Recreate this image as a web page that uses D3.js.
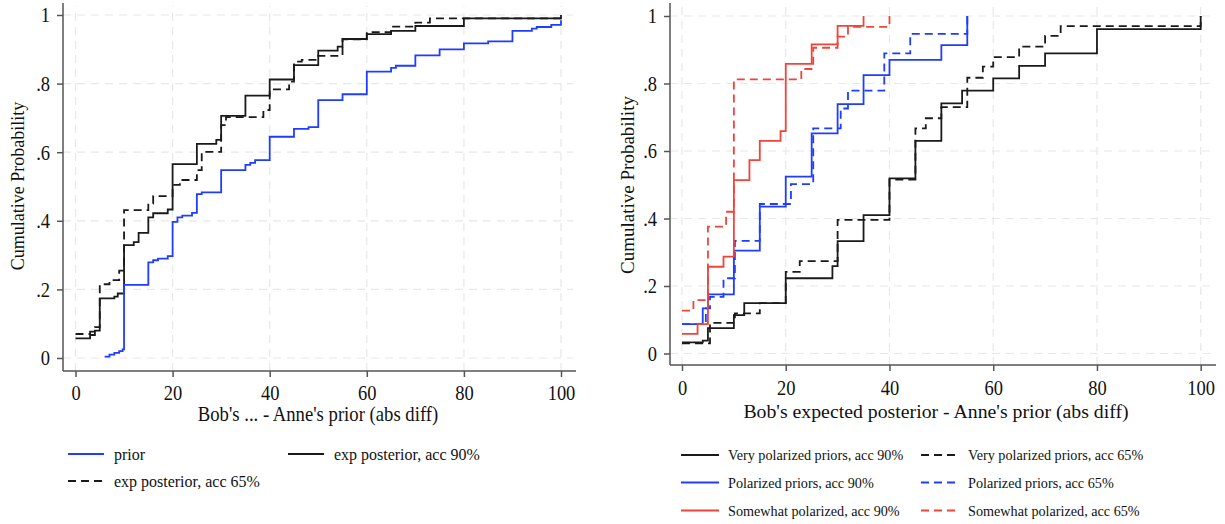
<!DOCTYPE html>
<html><head><meta charset="utf-8">
<script src="https://cdn.jsdelivr.net/npm/d3@7"></script>
<style>
body{margin:0;background:#fff;}
svg{display:block;font-family:"Liberation Serif","Times New Roman",serif;}
</style></head>
<body><svg id="c" width="1225" height="524"></svg>
<script>
// ---------- DATA (x = abs diff, p = cumulative probability; each point starts a step) ----------
const xTicks = [0, 20, 40, 60, 80, 100];
const yTicks = [0, 0.2, 0.4, 0.6, 0.8, 1];
const yTickLabels = ["0", ".2", ".4", ".6", ".8", "1"];

// Left panel
const leftPrior = [[6,0.004],[7,0.01],[8,0.015],[9,0.02],[9.7,0.025],[10,0.213],[15,0.279],[16,0.285],[17,0.29],[19,0.297],[20,0.397],[21,0.41],[22,0.415],[24,0.423],[25,0.478],[26,0.483],[30,0.548],[35,0.563],[36,0.569],[37,0.577],[40,0.645],[45,0.668],[48,0.673],[50,0.752],[55,0.769],[60,0.835],[65,0.846],[66,0.852],[70,0.882],[75,0.9],[80,0.917],[85,0.923],[90,0.954],[94,0.96],[95,0.965],[98,0.971],[100,0.985]];
const leftPost90 = [[0,0.057],[3,0.067],[4,0.08],[5,0.174],[8,0.179],[8.7,0.188],[10,0.329],[12,0.338],[13,0.365],[15,0.41],[16,0.422],[19,0.433],[20,0.565],[25,0.624],[29,0.636],[30,0.706],[35,0.765],[40,0.812],[45,0.854],[50,0.896],[54,0.908],[55,0.93],[60,0.944],[65,0.954],[70,0.968],[80,0.99],[100,1]];
const leftPost65 = [[0,0.07],[3,0.077],[4,0.09],[5,0.215],[7,0.227],[9,0.255],[10,0.431],[15,0.45],[16,0.472],[20,0.505],[21.5,0.519],[25,0.548],[26,0.601],[30,0.679],[31,0.702],[38.7,0.723],[40,0.783],[44,0.806],[45,0.864],[46.6,0.869],[50,0.881],[55,0.929],[60,0.95],[65,0.966],[70,0.978],[73,0.99],[100,1]];

// Right panel
const veryPol90 = [[0,0.033],[4,0.038],[5,0.075],[10,0.114],[12,0.149],[20,0.223],[29,0.259],[30,0.333],[35,0.41],[40,0.519],[45,0.63],[50,0.741],[54,0.779],[60,0.815],[65,0.852],[70,0.889],[80,0.961],[100,1]];
const veryPol65 = [[0,0.03],[5.4,0.091],[10.2,0.119],[15,0.149],[20,0.242],[22.7,0.274],[30,0.396],[40,0.515],[45,0.667],[47,0.697],[50,0.73],[55,0.817],[58,0.85],[60,0.878],[65,0.909],[70,0.941],[73,0.97],[100,1]];
const pol90 = [[0,0.087],[4,0.134],[5,0.175],[10,0.305],[15,0.435],[20,0.524],[25,0.652],[30,0.739],[35,0.825],[40,0.87],[50,0.914],[55,1]];
const pol65 = [[0,0.087],[4.6,0.134],[5.4,0.168],[8,0.223],[10.2,0.334],[15,0.443],[21,0.502],[25.3,0.667],[30.6,0.726],[32,0.779],[39,0.889],[44,0.947],[55,1]];
const some90 = [[0,0.058],[3,0.087],[5,0.257],[8,0.287],[10,0.514],[13,0.573],[15,0.63],[19,0.659],[20,0.858],[25,0.916],[30,0.971],[35,1]];
const some65 = [[0,0.127],[2.2,0.158],[5,0.376],[8.5,0.42],[10,0.812],[23,0.843],[25.3,0.906],[30,0.939],[32,0.968],[40,1]];

const BLACK = "#1a1a1a", BLUE = "#1f3dff", RED = "#f2433a";
const SY = 1.1; // slight vertical stretch of horizontal text

const svg = d3.select("#c");

function panel(cfg){
  const g = svg.append("g");
  const x = d3.scaleLinear().domain([0,100]).range([cfg.x0, cfg.x1]);
  const y = d3.scaleLinear().domain([0,1]).range([cfg.y0, cfg.y1]);
  // grid
  g.append("g").selectAll("line").data(yTicks).join("line")
    .attr("x1", cfg.axX).attr("x2", cfg.gridR).attr("y1", d=>y(d)).attr("y2", d=>y(d))
    .attr("stroke","#e8e8e8").attr("stroke-width",1.2).attr("stroke-dasharray","8,6");
  g.append("g").selectAll("line").data(xTicks).join("line")
    .attr("y1", cfg.axY).attr("y2", cfg.gridT).attr("x1", d=>x(d)).attr("x2", d=>x(d))
    .attr("stroke","#e8e8e8").attr("stroke-width",1.2).attr("stroke-dasharray","8,6");
  // y axis
  const ya = g.append("g").attr("transform",`translate(${cfg.axX},0)`)
    .call(d3.axisLeft(y).tickValues(yTicks).tickFormat((d,i)=>yTickLabels[i]).tickSize(6).tickPadding(6).tickSizeOuter(0));
  ya.select(".domain").attr("d", `M0,${cfg.axY}V${cfg.gridT-3}`);
  ya.selectAll("text").attr("dy",null).attr("x",null)
    .attr("transform",`translate(-13,${0.34*cfg.tickSize*SY}) scale(1,${SY})`);
  // x axis
  const xa = g.append("g").attr("transform",`translate(0,${cfg.axY})`)
    .call(d3.axisBottom(x).tickValues(xTicks).tickSize(6).tickPadding(6).tickSizeOuter(0));
  xa.select(".domain").attr("d", `M${cfg.axX},0H${cfg.gridR+3}`);
  xa.selectAll("text").attr("dy",null).attr("y",null)
    .attr("transform",`translate(0,${cfg.tickBase}) scale(1,${SY})`);
  [ya,xa].forEach(a=>{
    a.selectAll(".domain,.tick line").attr("stroke","#555").attr("stroke-width",1.5);
    a.selectAll("text").attr("font-family","Liberation Serif").attr("font-size",cfg.tickSize).attr("fill","#111");
  });
  // titles
  g.append("text").attr("transform",`translate(${cfg.ytX},${cfg.ytY}) rotate(-90)`)
    .attr("text-anchor","middle").attr("dy","0.35em").attr("font-size",cfg.ytSize).attr("fill","#111").text("Cumulative Probability");
  g.append("text").attr("transform",`translate(${cfg.xtX},${cfg.xtY}) scale(1,${cfg.xtSY})`).attr("text-anchor","middle")
    .attr("font-size",cfg.xtSize).attr("fill","#111").text(cfg.xTitle);
  // lines
  const line = d3.line().x(d=>x(d[0])).y(d=>y(d[1])).curve(d3.curveStepAfter);
  cfg.series.forEach(s=>{
    g.append("path").attr("d", line(s.data)).attr("fill","none")
      .attr("stroke", s.color).attr("stroke-width",1.8)
      .attr("stroke-dasharray", s.dash ? "8,5" : null);
  });
  // legend
  cfg.legend.forEach(l=>{
    g.append("line").attr("x1",l.x).attr("x2",l.x+cfg.legW).attr("y1",l.y).attr("y2",l.y)
      .attr("stroke",l.color).attr("stroke-width",1.8).attr("stroke-dasharray",l.dash?"8,5":null);
    g.append("text").attr("transform",`translate(${l.x+cfg.legW+cfg.legGap},${l.y+cfg.legSize*0.34*SY}) scale(1,${SY})`)
      .attr("font-size",cfg.legSize).attr("fill","#111").text(l.label);
  });
}

panel({
  x0:75.5, x1:561, y0:358, y1:15, axX:63, axY:371, gridR:573, gridT:6,
  tickSize:18.5, tickBase:29,
  ytX:18, ytY:186, ytSize:18, xtX:318, xtY:421, xtSize:18.7, xtSY:SY, xTitle:"Bob's ... - Anne's prior (abs diff)",
  series:[
    {data:leftPost65, color:BLACK, dash:true},
    {data:leftPost90, color:BLACK},
    {data:leftPrior, color:BLUE}
  ],
  legW:36, legGap:10, legSize:16,
  legend:[
    {x:68,y:454,color:BLUE,label:"prior"},
    {x:288,y:454,color:BLACK,label:"exp posterior, acc 90%"},
    {x:68,y:481,color:BLACK,dash:true,label:"exp posterior, acc 65%"}
  ]
});

panel({
  x0:682, x1:1200.7, y0:353.5, y1:16, axX:670, axY:365, gridR:1213, gridT:6,
  tickSize:18.5, tickBase:30,
  ytX:627, ytY:185, ytSize:19, xtX:936, xtY:418, xtSize:19.8, xtSY:1.0, xTitle:"Bob's expected posterior - Anne's prior (abs diff)",
  series:[
    {data:veryPol65, color:BLACK, dash:true},
    {data:veryPol90, color:BLACK},
    {data:pol65, color:BLUE, dash:true},
    {data:pol90, color:BLUE},
    {data:some65, color:RED, dash:true},
    {data:some90, color:RED}
  ],
  legW:38, legGap:9, legSize:14.2,
  legend:[
    {x:681,y:455,color:BLACK,label:"Very polarized priors, acc 90%"},
    {x:921,y:455,color:BLACK,dash:true,label:"Very polarized priors, acc 65%"},
    {x:681,y:482.5,color:BLUE,label:"Polarized priors, acc 90%"},
    {x:921,y:482.5,color:BLUE,dash:true,label:"Polarized priors, acc 65%"},
    {x:681,y:510.5,color:RED,label:"Somewhat polarized, acc 90%"},
    {x:921,y:510.5,color:RED,dash:true,label:"Somewhat polarized, acc 65%"}
  ]
});
</script></body></html>
